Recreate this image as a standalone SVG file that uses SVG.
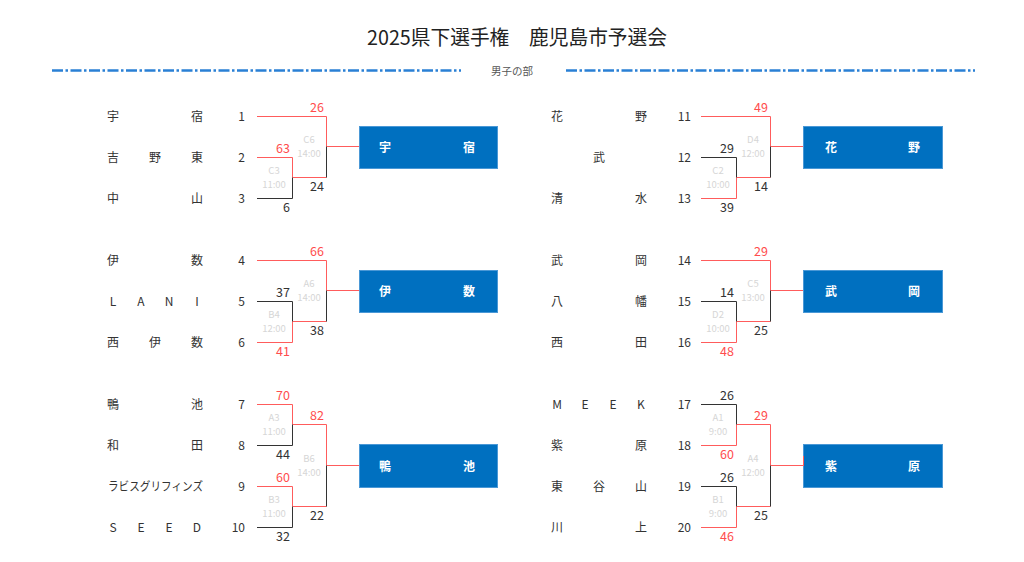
<svg xmlns="http://www.w3.org/2000/svg" width="1024" height="562" viewBox="0 0 1024 562">
<style>
text{font-family:"Noto Sans CJK JP","Noto Sans",sans-serif;}
.title{font-size:20px;fill:#222;text-anchor:middle;}
.sub{font-size:10.5px;fill:#555;text-anchor:middle;}
.dash{stroke:#2a80d5;stroke-width:2.5;stroke-dasharray:11 2.5 2.5 2.5;fill:none;}
.nm{font-size:12px;fill:#333;text-anchor:middle;}
.sd{font-size:12px;fill:#333;text-anchor:end;}
.r{stroke:#ff5c5c;stroke-width:1;fill:none;}
.k{stroke:#333;stroke-width:1;fill:none;}
.sr{font-size:12.5px;fill:#ff4d4d;text-anchor:end;}
.sk{font-size:12.5px;fill:#333;text-anchor:end;}
.ml{font-size:9.5px;fill:#d6d6d6;text-anchor:middle;}
.box{fill:#0070c0;stroke:#4a98d6;stroke-width:1;}
.bt{font-size:12px;fill:#fff;font-weight:bold;text-anchor:middle;}
</style>
<rect width="1024" height="562" fill="#fff"/>
<g id="header">
<text class="title" x="517" y="45" textLength="300" lengthAdjust="spacingAndGlyphs">2025県下選手権　鹿児島市予選会</text>
<line class="dash" x1="52" y1="70.5" x2="461" y2="70.5"/>
<line class="dash" x1="566" y1="70.5" x2="975" y2="70.5"/>
<text class="sub" x="512" y="75">男子の部</text>
</g>

<!-- Teams left -->
<g id="team1"><text class="nm" x="113" y="120.5">宇</text><text class="nm" x="197" y="120.5">宿</text><text class="sd" x="245" y="120.5">1</text></g>
<g id="team2"><text class="nm" x="113" y="161.5">吉</text><text class="nm" x="155" y="161.5">野</text><text class="nm" x="197" y="161.5">東</text><text class="sd" x="245" y="161.5">2</text></g>
<g id="team3"><text class="nm" x="113" y="202.5">中</text><text class="nm" x="197" y="202.5">山</text><text class="sd" x="245" y="202.5">3</text></g>
<g id="team4"><text class="nm" x="113" y="264.5">伊</text><text class="nm" x="197" y="264.5">数</text><text class="sd" x="245" y="264.5">4</text></g>
<g id="team5"><text class="nm" x="113" y="305.5">L</text><text class="nm" x="141" y="305.5">A</text><text class="nm" x="169" y="305.5">N</text><text class="nm" x="197" y="305.5">I</text><text class="sd" x="245" y="305.5">5</text></g>
<g id="team6"><text class="nm" x="113" y="346.5">西</text><text class="nm" x="155" y="346.5">伊</text><text class="nm" x="197" y="346.5">数</text><text class="sd" x="245" y="346.5">6</text></g>
<g id="team7"><text class="nm" x="113" y="408.5">鴨</text><text class="nm" x="197" y="408.5">池</text><text class="sd" x="245" y="408.5">7</text></g>
<g id="team8"><text class="nm" x="113" y="449.5">和</text><text class="nm" x="197" y="449.5">田</text><text class="sd" x="245" y="449.5">8</text></g>
<g id="team9"><text class="nm" x="108" y="490.5" style="text-anchor:start" textLength="95" lengthAdjust="spacingAndGlyphs">ラビスグリフィンズ</text><text class="sd" x="245" y="490.5">9</text></g>
<g id="team10"><text class="nm" x="113" y="531.5">S</text><text class="nm" x="141" y="531.5">E</text><text class="nm" x="169" y="531.5">E</text><text class="nm" x="197" y="531.5">D</text><text class="sd" x="245" y="531.5">10</text></g>

<!-- Teams right -->
<g id="team11"><text class="nm" x="557" y="120.5">花</text><text class="nm" x="641" y="120.5">野</text><text class="sd" x="691" y="120.5">11</text></g>
<g id="team12"><text class="nm" x="599" y="161.5">武</text><text class="sd" x="691" y="161.5">12</text></g>
<g id="team13"><text class="nm" x="557" y="202.5">清</text><text class="nm" x="641" y="202.5">水</text><text class="sd" x="691" y="202.5">13</text></g>
<g id="team14"><text class="nm" x="557" y="264.5">武</text><text class="nm" x="641" y="264.5">岡</text><text class="sd" x="691" y="264.5">14</text></g>
<g id="team15"><text class="nm" x="557" y="305.5">八</text><text class="nm" x="641" y="305.5">幡</text><text class="sd" x="691" y="305.5">15</text></g>
<g id="team16"><text class="nm" x="557" y="346.5">西</text><text class="nm" x="641" y="346.5">田</text><text class="sd" x="691" y="346.5">16</text></g>
<g id="team17"><text class="nm" x="557" y="408.5">M</text><text class="nm" x="585" y="408.5">E</text><text class="nm" x="613" y="408.5">E</text><text class="nm" x="641" y="408.5">K</text><text class="sd" x="691" y="408.5">17</text></g>
<g id="team18"><text class="nm" x="557" y="449.5">紫</text><text class="nm" x="641" y="449.5">原</text><text class="sd" x="691" y="449.5">18</text></g>
<g id="team19"><text class="nm" x="557" y="490.5">東</text><text class="nm" x="599" y="490.5">谷</text><text class="nm" x="641" y="490.5">山</text><text class="sd" x="691" y="490.5">19</text></g>
<g id="team20"><text class="nm" x="557" y="531.5">川</text><text class="nm" x="641" y="531.5">上</text><text class="sd" x="691" y="531.5">20</text></g>

<!-- Result boxes -->
<g id="win-l1"><rect class="box" x="359.5" y="126.5" width="138" height="42"/><text class="bt" x="385" y="151.5">宇</text><text class="bt" x="469" y="151.5">宿</text></g>
<g id="win-l2"><rect class="box" x="359.5" y="270.5" width="138" height="42"/><text class="bt" x="385" y="295.5">伊</text><text class="bt" x="469" y="295.5">数</text></g>
<g id="win-l3"><rect class="box" x="359.5" y="444.5" width="138" height="43"/><text class="bt" x="385" y="470.5">鴨</text><text class="bt" x="469" y="470.5">池</text></g>
<g id="win-r1"><rect class="box" x="803.5" y="126.5" width="139" height="42"/><text class="bt" x="831" y="151.5">花</text><text class="bt" x="914" y="151.5">野</text></g>
<g id="win-r2"><rect class="box" x="803.5" y="270.5" width="139" height="42"/><text class="bt" x="831" y="295.5">武</text><text class="bt" x="914" y="295.5">岡</text></g>
<g id="win-r3"><rect class="box" x="803.5" y="444.5" width="139" height="43"/><text class="bt" x="831" y="470.5">紫</text><text class="bt" x="914" y="470.5">原</text></g>

<!-- Connectors -->
<g id="connectors">
<!-- left sec1 -->
<path class="r" d="M257 116.5H326.5M326.5 116.5V146.5M257 157.5H292.5M292.5 157.5V177.5M292.5 177.5H326.5M326.5 146.5H359"/>
<path class="k" d="M257 198.5H292.5M292.5 177.5V198.5M326.5 146.5V177.5"/>
<!-- left sec2 -->
<path class="r" d="M257 260.5H326.5M326.5 260.5V290.5M257 342.5H292.5M292.5 321.5V342.5M292.5 321.5H326.5M326.5 290.5H359"/>
<path class="k" d="M257 301.5H292.5M292.5 301.5V321.5M326.5 290.5V321.5"/>
<!-- left sec3 -->
<path class="r" d="M257 404.5H292.5M292.5 404.5V424.5M292.5 424.5H326.5M257 486.5H292.5M292.5 486.5V506.5M292.5 506.5H326.5M326.5 424.5V465.5M326.5 465.5H359"/>
<path class="k" d="M257 445.5H292.5M292.5 424.5V445.5M257 527.5H292.5M292.5 506.5V527.5M326.5 465.5V506.5"/>
<!-- right sec1 -->
<path class="r" d="M701 116.5H770.5M770.5 116.5V146.5M701 198.5H736.5M736.5 177.5V198.5M736.5 177.5H770.5M770.5 146.5H803"/>
<path class="k" d="M701 157.5H736.5M736.5 157.5V177.5M770.5 146.5V177.5"/>
<!-- right sec2 -->
<path class="r" d="M701 260.5H770.5M770.5 260.5V290.5M701 342.5H736.5M736.5 321.5V342.5M736.5 321.5H770.5M770.5 290.5H803"/>
<path class="k" d="M701 301.5H736.5M736.5 301.5V321.5M770.5 290.5V321.5"/>
<!-- right sec3 -->
<path class="r" d="M701 445.5H736.5M736.5 424.5V445.5M736.5 424.5H770.5M701 527.5H736.5M736.5 506.5V527.5M736.5 506.5H770.5M770.5 424.5V465.5M770.5 465.5H803M803.5 456V466"/>
<path class="k" d="M701 404.5H736.5M736.5 404.5V424.5M701 486.5H736.5M736.5 486.5V506.5M770.5 465.5V506.5"/>
</g>

<!-- Scores -->
<g id="scores">
<text class="sr" x="324" y="111.5">26</text><text class="sr" x="290" y="152.5">63</text><text class="sk" x="290" y="211.5">6</text><text class="sk" x="324" y="190.5">24</text>
<text class="sr" x="324" y="255.5">66</text><text class="sk" x="290" y="296.5">37</text><text class="sr" x="290" y="355.5">41</text><text class="sk" x="324" y="334.5">38</text>
<text class="sr" x="290" y="399.5">70</text><text class="sk" x="290" y="458.5">44</text><text class="sr" x="324" y="419.5">82</text><text class="sr" x="290" y="481.5">60</text><text class="sk" x="290" y="540.5">32</text><text class="sk" x="324" y="519.5">22</text>
<text class="sr" x="768" y="111.5">49</text><text class="sk" x="734" y="152.5">29</text><text class="sk" x="734" y="211.5">39</text><text class="sk" x="768" y="190.5">14</text>
<text class="sr" x="768" y="255.5">29</text><text class="sk" x="734" y="296.5">14</text><text class="sr" x="734" y="355.5">48</text><text class="sk" x="768" y="334.5">25</text>
<text class="sk" x="734" y="399.5">26</text><text class="sr" x="734" y="458.5">60</text><text class="sr" x="768" y="419.5">29</text><text class="sk" x="734" y="481.5">26</text><text class="sr" x="734" y="540.5">46</text><text class="sk" x="768" y="519.5">25</text>
</g>

<!-- Match labels -->
<g id="match-labels">
<text class="ml" x="274" y="173.5">C3</text><text class="ml" x="274" y="187.5">11:00</text>
<text class="ml" x="309" y="142.5">C6</text><text class="ml" x="309" y="156.5">14:00</text>
<text class="ml" x="274" y="317.5">B4</text><text class="ml" x="274" y="331.5">12:00</text>
<text class="ml" x="309" y="286.5">A6</text><text class="ml" x="309" y="300.5">14:00</text>
<text class="ml" x="274" y="420.5">A3</text><text class="ml" x="274" y="434.5">11:00</text>
<text class="ml" x="274" y="502.5">B3</text><text class="ml" x="274" y="516.5">11:00</text>
<text class="ml" x="309" y="461.5">B6</text><text class="ml" x="309" y="475.5">14:00</text>
<text class="ml" x="718" y="173.5">C2</text><text class="ml" x="718" y="187.5">10:00</text>
<text class="ml" x="753" y="142.5">D4</text><text class="ml" x="753" y="156.5">12:00</text>
<text class="ml" x="718" y="317.5">D2</text><text class="ml" x="718" y="331.5">10:00</text>
<text class="ml" x="753" y="286.5">C5</text><text class="ml" x="753" y="300.5">13:00</text>
<text class="ml" x="718" y="420.5">A1</text><text class="ml" x="718" y="434.5">9:00</text>
<text class="ml" x="718" y="502.5">B1</text><text class="ml" x="718" y="516.5">9:00</text>
<text class="ml" x="753" y="461.5">A4</text><text class="ml" x="753" y="475.5">12:00</text>
</g>
</svg>
